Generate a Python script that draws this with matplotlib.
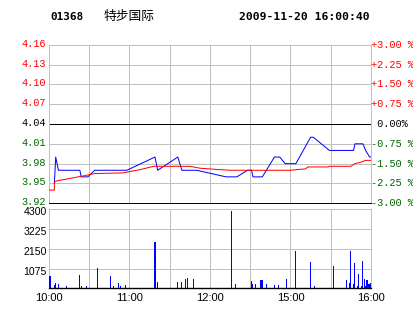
import matplotlib
matplotlib.use('Agg')
import matplotlib.pyplot as plt
from matplotlib.transforms import ScaledTranslation

code = '01368'
name = '特步国际'
stamp = '2009-11-20 16:00:40'

# price axis (previous close 4.04)
price_ticks = [4.16, 4.13, 4.10, 4.07, 4.04, 4.01, 3.98, 3.95, 3.92]
price_labels = ['4.16', '4.13', '4.10', '4.07', '4.04', '4.01', '3.98', '3.95', '3.92']
pct_labels = ['+3.00 %', '+2.25 %', '+1.50 %', '+0.75 %', ' 0.00%',
              '-0.75 %', '-1.50 %', '-2.25 %', '-3.00 %']

# minutes of trading since 10:00
price_min = [4, 5, 6, 7, 23, 24, 29, 34, 58, 79, 81, 96, 99, 110, 132, 140, 148, 151,
             152, 159, 168, 172, 176, 184, 195, 197, 209, 227, 228, 234, 236, 239, 240]
price_val = [3.95, 3.99, 3.98, 3.97, 3.97, 3.96, 3.96, 3.97, 3.97, 3.99, 3.97, 3.99, 3.97,
             3.97, 3.96, 3.96, 3.97, 3.97, 3.96, 3.96, 3.99, 3.99, 3.98, 3.98, 4.02, 4.02,
             4.00, 4.00, 4.01, 4.01, 4.00, 3.99, 3.99]

avg_min = [0, 4, 4, 6, 27, 34, 55, 68, 78, 105, 113, 127, 135, 180, 185, 191, 193, 208,
           209, 225, 228, 232, 236, 240]
avg_val = [3.940, 3.940, 3.952, 3.954, 3.962, 3.965, 3.966, 3.971, 3.976, 3.976, 3.973,
           3.971, 3.970, 3.970, 3.971, 3.972, 3.975, 3.975, 3.976, 3.976, 3.980, 3.982,
           3.985, 3.985]

vol_min = [0, 1, 4, 5, 7, 13, 23, 24, 28, 36, 46, 48, 52, 53, 57, 79, 81, 96, 99, 102,
           103, 108, 136, 139, 151, 152, 154, 158, 159, 162, 168, 171, 177, 184, 195, 198,
           212, 222, 224, 225, 227, 228, 230, 231, 233, 234, 235, 236, 237, 238, 239, 240]
vol_val = [670, 650, 180, 290, 230, 120, 720, 120, 120, 1100, 670, 120, 290, 120, 180,
           2520, 340, 340, 340, 510, 560, 510, 4200, 230, 400, 230, 230, 440, 440, 230,
           170, 170, 510, 2030, 1430, 110, 1210, 440, 290, 2030, 230, 1360, 110, 780, 110,
           1480, 510, 110, 440, 230, 230, 290]

vol_ticks = [1075, 2150, 3225, 4300]
vol_labels = ['1075', '2150', '3225', '4300']
time_ticks = [0, 60, 120, 180, 240]
time_labels = ['10:00', '11:00', '12:00', '15:00', '16:00']
grid_min = [30, 90, 150, 210]

RED = '#ff0000'
BLUE = '#0000ff'
GREEN = '#006600'
GRAY = '#c0c0c0'
MONO = 'Liberation Mono'
LW = 0.7

plt.rcParams['font.family'] = ['DejaVu Sans']

fig = plt.figure(figsize=(4.14, 3.14), dpi=100)
ax = fig.add_axes([49 / 414, 1 - 203.3 / 314, 322 / 414, 158.6 / 314])
axv = fig.add_axes([49 / 414, 1 - 288.3 / 314, 322 / 414, 79 / 314])


def shift(labels, dy_px):
    for lab in labels:
        lab.set_transform(lab.get_transform() +
                          ScaledTranslation(0, dy_px / 100, fig.dpi_scale_trans))


# header
fig.text(50 / 414, 1 - 16.5 / 314, code, family='DejaVu Sans Mono', weight='bold',
         fontsize=7.9, va='center', ha='left')
fig.text(104 / 414, 1 - 16.5 / 314, name, family=['Noto Sans CJK SC', 'DejaVu Sans'],
         fontsize=9.2, va='center', ha='left')
fig.text(370 / 414, 1 - 16.5 / 314, stamp, family='DejaVu Sans Mono', weight='bold',
         fontsize=8.2, va='center', ha='right')

# price panel
ax.set_xlim(0, 240)
ax.set_ylim(3.92, 4.16)
for t in price_ticks:
    if t not in (4.04, 3.92):
        ax.axhline(t, color=GRAY, lw=LW, zorder=1, antialiased=False)
for m in grid_min + time_ticks:
    ax.axvline(m, color=GRAY, lw=LW, zorder=1, antialiased=False)
ax.axhline(4.04, color='black', lw=LW, zorder=2, antialiased=False)
ax.plot(price_min, price_val, color=BLUE, lw=0.72, zorder=3)
ax.plot(avg_min, avg_val, color=RED, lw=0.72, zorder=4)
ax.set_xticks([])
ax.set_yticks(price_ticks)
ax.set_yticklabels(price_labels, family=MONO, fontsize=7.4)
ax.tick_params(axis='y', length=0, pad=2)
for lab, t in zip(ax.get_yticklabels(), price_ticks):
    lab.set_color(RED if t > 4.04 else ('black' if t == 4.04 else GREEN))
shift(ax.get_yticklabels(), 2)
for s in ['top', 'left', 'right']:
    ax.spines[s].set_color(GRAY)
    ax.spines[s].set_linewidth(LW)
ax.spines['bottom'].set_color('black')
ax.spines['bottom'].set_linewidth(LW)

axr = ax.twinx()
axr.set_ylim(3.92, 4.16)
axr.set_yticks(price_ticks)
axr.set_yticklabels(pct_labels, family=MONO, fontsize=7.4)
axr.tick_params(axis='y', length=0, pad=0)
for lab, t in zip(axr.get_yticklabels(), price_ticks):
    lab.set_color(RED if t > 4.04 else ('black' if t == 4.04 else GREEN))
shift(axr.get_yticklabels(), 1)
for s in axr.spines.values():
    s.set_visible(False)

# volume panel
axv.set_xlim(0, 240)
axv.set_ylim(0, 4300)
for t in vol_ticks[:-1]:
    axv.axhline(t, color=GRAY, lw=LW, zorder=1, antialiased=False)
for m in grid_min + time_ticks[1:-1]:
    axv.axvline(m, color=GRAY, lw=LW, zorder=1, antialiased=False)
axv.bar(vol_min, vol_val, width=0.8, color=BLUE, linewidth=0, zorder=3,
        antialiased=False)
axv.set_yticks(vol_ticks)
axv.set_yticklabels(vol_labels, family='Liberation Sans', fontsize=7.6)
axv.set_xticks(time_ticks)
axv.set_xticklabels(time_labels, family='Liberation Sans', fontsize=8)
axv.tick_params(axis='y', length=0, pad=1.5)
axv.tick_params(axis='x', length=0, pad=3.5)
shift(axv.get_yticklabels(), -2)
for s in ['top', 'left', 'right']:
    axv.spines[s].set_color(GRAY)
    axv.spines[s].set_linewidth(LW)
axv.spines['bottom'].set_color('black')
axv.spines['bottom'].set_linewidth(1.0)

fig.savefig('out.png', dpi=100)
